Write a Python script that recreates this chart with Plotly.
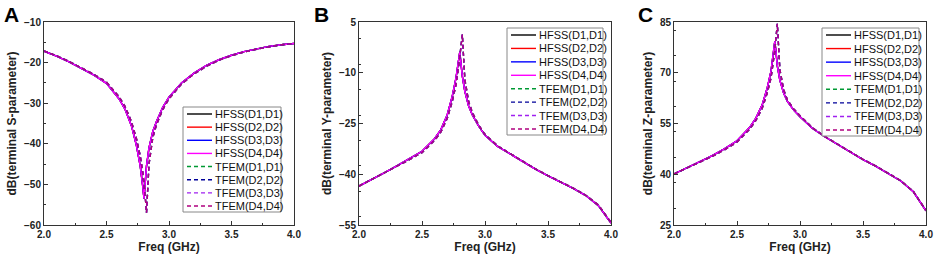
import plotly.graph_objects as go

# ---------------- data ----------------
freq = [2.0, 2.1, 2.2, 2.3, 2.4, 2.5, 2.6, 2.65, 2.7, 2.74, 2.77, 2.79, 2.80, 2.81,
        2.82, 2.84, 2.87, 2.9, 2.95, 3.0, 3.1, 3.2, 3.3, 3.4, 3.5, 3.6, 3.7, 3.8, 3.9, 4.0]

s_hfss = [-17.2, -18.4, -19.8, -21.4, -23.1, -25.1, -28.9, -31.6, -35.6, -40.5, -45.5, -50.5,
          -53.5, -49.5, -45.5, -41.0, -37.0, -34.5, -31.0, -28.5, -25.0, -22.6, -20.7, -19.3,
          -18.2, -17.3, -16.6, -16.0, -15.6, -15.3]
s_tfem = [-17.1, -18.3, -19.7, -21.2, -22.9, -24.8, -28.4, -30.9, -34.6, -38.8, -43.0, -47.0,
          -49.5, -53.0, -57.0, -45.0, -38.5, -35.3, -31.6, -28.9, -25.3, -22.8, -20.9, -19.4,
          -18.3, -17.4, -16.7, -16.1, -15.6, -15.3]

y_hfss = [-43.5, -41.6, -39.6, -37.5, -35.4, -33.2, -29.5, -26.8, -22.5, -17.0, -11.5, -6.5,
          -3.8, -7.5, -11.0, -15.5, -19.8, -22.5, -25.8, -28.5, -31.8, -34.0, -36.3, -38.5,
          -40.5, -42.3, -44.2, -46.3, -49.3, -54.4]
y_tfem = [-43.5, -41.6, -39.7, -37.7, -35.7, -33.6, -30.0, -27.5, -23.5, -18.5, -13.5, -8.5,
          -5.5, -1.5, 1.3, -12.0, -18.5, -21.8, -25.5, -28.2, -31.6, -33.9, -36.2, -38.4,
          -40.4, -42.2, -44.1, -46.2, -49.1, -54.2]

z_hfss = [40.1, 41.8, 43.5, 45.4, 47.5, 49.9, 53.8, 56.6, 60.5, 65.5, 70.5, 75.5,
          79.3, 76.0, 72.0, 67.8, 64.0, 61.5, 59.0, 57.0, 53.5, 51.0, 48.7, 46.5,
          44.3, 42.4, 40.3, 38.0, 34.8, 29.2]
z_tfem = [40.1, 41.8, 43.4, 45.2, 47.2, 49.5, 53.3, 55.9, 59.5, 64.0, 68.5, 73.5,
          76.5, 80.5, 84.5, 71.0, 65.0, 62.0, 59.3, 57.3, 53.7, 51.1, 48.8, 46.6,
          44.4, 42.5, 40.4, 38.1, 34.9, 29.3]

panel_labels = ["A", "B", "C"]
y_titles = ["dB(terminal S-parameter)", "dB(terminal Y-parameter)", "dB(terminal Z-parameter)"]
y_ranges = [[-60, -10], [-55, 5], [25, 85]]
y_dticks = [10, 15, 15]
x_ticks = [2.0, 2.5, 3.0, 3.5, 4.0]
x_ticklabels = ["2.0", "2.5", "3.0", "3.5", "4.0"]

series_names = ["HFSS(D1,D1)", "HFSS(D2,D2)", "HFSS(D3,D3)", "HFSS(D4,D4)",
                "TFEM(D1,D1)", "TFEM(D2,D2)", "TFEM(D3,D3)", "TFEM(D4,D4)"]
series_colors = ["#000000", "#ff0000", "#0000ff", "#ff00ff",
                 "#009933", "#000099", "#a020f0", "#b0007f"]
DASH = "4px,3px"
series_dash = ["solid"] * 4 + [DASH] * 4

panel_data = [(s_hfss, s_tfem), (y_hfss, y_tfem), (z_hfss, z_tfem)]

# ---------------- layout geometry ----------------
W, H = 934, 254
FONT = "Liberation Sans, Arial, sans-serif"
plot_px = [(44, 294), (359, 611), (674, 926)]
top_px, bot_px = 22, 225
legend_px = [(183, 107, 281, 212), (507, 28, 603, 135), (822, 28, 919, 136)]
letter_px = [2, 312, 636]


def px(x):
    return x / W


def py(y):
    return 1 - y / H


fig = go.Figure()
shapes = []
annotations = []

for p in range(3):
    xa = "x" if p == 0 else f"x{p+1}"
    ya = "y" if p == 0 else f"y{p+1}"
    hf, tf = panel_data[p]
    for i, name in enumerate(series_names):
        vals = hf if i < 4 else tf
        fig.add_trace(go.Scatter(
            x=freq, y=vals, mode="lines", name=name, showlegend=False,
            line=dict(color=series_colors[i], width=1.4, dash=series_dash[i]),
            xaxis=xa, yaxis=ya))

    axis_common = dict(
        showline=True, linecolor="#333333", linewidth=1, mirror=True, automargin=False,
        ticks="inside", ticklen=4, tickcolor="#333333", showgrid=False, zeroline=False,
        tickfont=dict(family=FONT, size=10, color="#222222", weight="bold"),
    )
    xkey = "xaxis" if p == 0 else f"xaxis{p+1}"
    ykey = "yaxis" if p == 0 else f"yaxis{p+1}"
    fig.update_layout(**{
        xkey: dict(axis_common, domain=[px(plot_px[p][0]), px(plot_px[p][1])],
                   range=[2.0, 4.0], tickvals=x_ticks, ticktext=x_ticklabels,
                   anchor=ya,
                   minor=dict(dtick=0.25, ticks="inside", ticklen=2, tickcolor="#333333"),
                   title=dict(text="Freq (GHz)", standoff=2,
                              font=dict(family=FONT, size=12, color="#222222", weight="bold"))),
        ykey: dict(axis_common, domain=[py(bot_px), py(top_px)],
                   range=y_ranges[p], dtick=y_dticks[p], tick0=y_ranges[p][0],
                   anchor=xa,
                   minor=dict(dtick=y_dticks[p] / 2, ticks="inside", ticklen=2, tickcolor="#333333"),
                   title=dict(text=y_titles[p], standoff=4,
                              font=dict(family=FONT, size=12, color="#222222", weight="bold"))),
    })

    # panel letter
    annotations.append(dict(text=f"<b>{panel_labels[p]}</b>", x=px(letter_px[p]), y=py(1),
                            xref="paper", yref="paper", xanchor="left", yanchor="top",
                            showarrow=False, font=dict(family=FONT, size=21, color="#000000")))

    # legend box (drawn manually to match the compact Origin legend)
    lx0, ly0, lx1, ly1 = legend_px[p]
    shapes.append(dict(type="rect", xref="paper", yref="paper",
                       x0=px(lx0), x1=px(lx1), y0=py(ly1), y1=py(ly0),
                       line=dict(color="#888888", width=1), fillcolor="white", layer="above"))
    row_h = (ly1 - ly0 - 13) / 7
    for i, name in enumerate(series_names):
        yc = ly0 + 7 + i * row_h
        shapes.append(dict(type="line", xref="paper", yref="paper",
                           x0=px(lx0 + 4), x1=px(lx0 + 29), y0=py(yc), y1=py(yc),
                           line=dict(color=series_colors[i], width=1.4, dash=series_dash[i]),
                           layer="above"))
        annotations.append(dict(text=name, x=px(lx0 + 30), y=py(yc), xref="paper", yref="paper",
                                xanchor="left", yanchor="middle", showarrow=False,
                                font=dict(family=FONT, size=11, color="#111111")))

fig.update_layout(
    width=W, height=H, margin=dict(l=0, r=0, t=0, b=0),
    paper_bgcolor="white", plot_bgcolor="white",
    showlegend=False, shapes=shapes, annotations=annotations,
)

fig.write_html(
    "out.html",
    config={"displayModeBar": False},
    post_script="document.body.style.margin='0';document.body.style.overflow='hidden';",
)
